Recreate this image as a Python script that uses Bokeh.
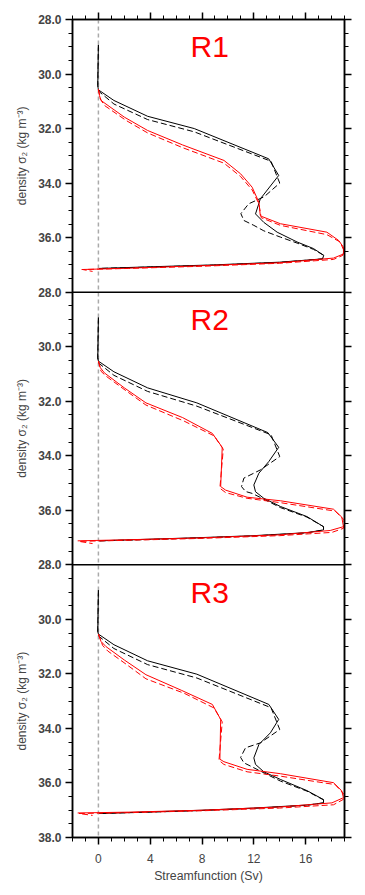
import math
from bokeh.plotting import figure
from bokeh.layouts import row
from bokeh.models import Range1d, LinearAxis, FixedTicker, Span, Label
from bokeh.embed import file_html
from bokeh.resources import INLINE

# ---------------- data (Streamfunction in Sv, density sigma_2) ----------------
# Panel R1
r1_black_solid_x = [0.0, -0.05, 0.0, 1.2, 3.8, 7.4, 13.15, 13.92, 12.5, 12.13, 12.77, 13.8, 15.34, 16.6, 17.4, 17.3, 14.0, 8.9, 4.0, 0.05]
r1_black_solid_y = [28.93, 30.42, 30.58, 30.97, 31.55, 32.0, 33.11, 33.72, 34.58, 35.13, 35.44, 35.8, 36.16, 36.4, 36.65, 36.78, 36.9, 37.0, 37.07, 37.13]
r1_black_dash_x = [0.0, -0.05, 0.0, 0.07, 1.2, 3.8, 7.4, 13.33, 14.0, 12.8, 11.6, 11.0, 11.23, 12.0, 12.77, 14.05, 15.34, 16.6, 17.4, 17.3, 14.0, 8.9, 4.0, 0.05]
r1_black_dash_y = [28.93, 30.42, 30.58, 30.65, 31.1, 31.67, 32.12, 33.2, 34.0, 34.5, 34.76, 35.12, 35.37, 35.55, 35.75, 35.98, 36.2, 36.43, 36.65, 36.78, 36.91, 37.01, 37.08, 37.13]
r1_red_solid_x = [0.0, 0.08, 0.2, 2.0, 3.8, 6.5, 9.7, 10.98, 11.87, 12.39, 12.5, 12.59, 14.05, 17.64, 18.54, 18.92, 18.92, 18.15, 14.0, 8.0, 2.3, -1.3]
r1_red_solid_y = [30.55, 30.79, 30.97, 31.58, 32.07, 32.6, 33.17, 33.66, 34.15, 34.7, 35.19, 35.22, 35.49, 35.8, 36.1, 36.35, 36.6, 36.75, 36.92, 37.03, 37.12, 37.17]
r1_red_dash_x = [0.0, 0.15, 0.46, 2.13, 3.8, 6.5, 9.7, 10.98, 11.87, 12.39, 12.57, 14.05, 17.64, 18.66, 18.95, 18.87, 18.15, 14.0, 8.0, 2.3, -1.2, -0.45]
r1_red_dash_y = [30.55, 30.91, 31.15, 31.7, 32.16, 32.7, 33.27, 33.76, 34.25, 34.76, 35.27, 35.55, 35.89, 36.16, 36.47, 36.65, 36.8, 36.94, 37.05, 37.13, 37.17, 37.24]

# Panel R2
r2_black_solid_x = [0.0, -0.05, 0.0, 1.2, 3.8, 7.6, 13.08, 13.92, 13.16, 12.39, 12.0, 12.13, 12.77, 14.05, 16.1, 17.38, 17.38, 16.1, 12.0, 8.0, 4.0, 0.05]
r2_black_solid_y = [28.93, 30.41, 30.53, 30.92, 31.51, 32.06, 33.15, 33.69, 34.21, 34.64, 35.07, 35.32, 35.56, 35.86, 36.23, 36.6, 36.72, 36.82, 36.93, 37.0, 37.06, 37.12]
r2_black_dash_x = [0.0, -0.05, 0.0, 0.07, 1.2, 3.8, 7.6, 13.33, 14.0, 12.5, 11.23, 11.05, 11.36, 11.87, 12.64, 14.05, 16.1, 17.38, 17.38, 16.1, 12.0, 8.0, 4.0, 0.05]
r2_black_dash_y = [28.93, 30.41, 30.53, 30.62, 31.05, 31.64, 32.18, 33.23, 34.03, 34.52, 34.82, 35.13, 35.31, 35.38, 35.56, 35.9, 36.25, 36.6, 36.72, 36.83, 36.94, 37.01, 37.07, 37.12]
r2_red_solid_x = [0.0, 0.15, 0.46, 2.0, 3.67, 6.5, 8.8, 9.56, 9.44, 9.82, 11.48, 14.05, 18.15, 18.79, 18.92, 17.9, 14.0, 8.0, 2.3, -1.6]
r2_red_solid_y = [30.53, 30.77, 30.96, 31.51, 32.06, 32.6, 33.18, 33.69, 35.13, 35.26, 35.52, 35.65, 35.96, 36.25, 36.6, 36.74, 36.9, 37.01, 37.08, 37.12]
r2_red_dash_x = [0.0, 0.2, 0.59, 2.26, 3.67, 6.62, 8.93, 9.64, 9.38, 9.82, 11.48, 14.05, 18.28, 18.97, 18.92, 18.03, 14.0, 8.0, 2.3, -1.5, -0.45]
r2_red_dash_y = [30.53, 30.9, 31.08, 31.66, 32.14, 32.73, 33.27, 33.76, 35.19, 35.35, 35.56, 35.72, 36.03, 36.35, 36.66, 36.81, 36.93, 37.03, 37.1, 37.14, 37.22]

# Panel R3
r3_black_solid_x = [0.0, -0.05, 0.0, 1.2, 3.8, 7.6, 13.16, 13.92, 13.28, 12.39, 12.0, 12.13, 12.77, 14.05, 16.1, 17.38, 17.38, 16.1, 12.0, 8.0, 4.0, 0.05]
r3_black_solid_y = [28.93, 30.44, 30.54, 30.93, 31.52, 32.01, 33.12, 33.67, 34.16, 34.59, 35.08, 35.32, 35.59, 35.87, 36.28, 36.61, 36.73, 36.81, 36.92, 37.0, 37.06, 37.12]
r3_black_dash_x = [0.0, -0.05, 0.0, 0.07, 1.2, 3.8, 7.6, 13.33, 14.0, 12.5, 11.36, 10.98, 11.23, 11.74, 13.03, 14.05, 16.1, 17.38, 17.38, 16.1, 12.0, 8.0, 4.0, 0.05]
r3_black_dash_y = [28.93, 30.44, 30.54, 30.63, 31.07, 31.66, 32.15, 33.24, 34.04, 34.53, 34.71, 35.06, 35.26, 35.38, 35.69, 35.93, 36.3, 36.62, 36.73, 36.82, 36.93, 37.01, 37.07, 37.12]
r3_red_solid_x = [0.0, 0.2, 0.59, 2.0, 3.67, 6.4, 8.8, 9.44, 9.38, 9.69, 11.48, 14.05, 18.15, 18.79, 18.92, 18.03, 14.0, 8.0, 2.3, -1.6]
r3_red_solid_y = [30.54, 30.81, 31.0, 31.49, 32.03, 32.6, 33.12, 33.67, 35.13, 35.22, 35.5, 35.66, 35.99, 36.29, 36.54, 36.73, 36.88, 37.0, 37.07, 37.1]
r3_red_dash_x = [0.0, 0.33, 0.72, 2.13, 3.67, 6.62, 8.93, 9.56, 9.31, 9.69, 11.48, 14.05, 18.28, 18.97, 18.92, 18.15, 14.0, 8.0, 2.3, -1.5, -0.45]
r3_red_dash_y = [30.54, 30.96, 31.16, 31.64, 32.18, 32.71, 33.25, 33.76, 35.17, 35.32, 35.59, 35.75, 36.06, 36.42, 36.6, 36.8, 36.92, 37.02, 37.09, 37.12, 37.19]

panel_names = ["R1", "R2", "R3"]
density_ticks = [28, 30, 32, 34, 36, 38]
stream_ticks = [0, 4, 8, 12, 16]
x_min, x_max = -2, 19
d_top, d_bot = 28, 38
y_title = "density σ₂ (kg m⁻³)"
x_title = "Streamfunction (Sv)"

panels = [
    (r1_black_solid_x, r1_black_solid_y, r1_black_dash_x, r1_black_dash_y,
     r1_red_solid_x, r1_red_solid_y, r1_red_dash_x, r1_red_dash_y),
    (r2_black_solid_x, r2_black_solid_y, r2_black_dash_x, r2_black_dash_y,
     r2_red_solid_x, r2_red_solid_y, r2_red_dash_x, r2_red_dash_y),
    (r3_black_solid_x, r3_black_solid_y, r3_black_dash_x, r3_black_dash_y,
     r3_red_solid_x, r3_red_solid_y, r3_red_dash_x, r3_red_dash_y),
]

FONT = "Liberation Sans"
span = d_bot - d_top
n = len(panels)
H = 888
TOP, BOT = 19, 51
TW = 30

# ---- narrow strip holding the per-panel y-axis titles ----
t = figure(width=TW, height=H, output_backend="svg", toolbar_location=None,
           x_range=Range1d(0, TW), y_range=Range1d(d_bot + (n - 1) * span, d_top),
           x_axis_location=None, y_axis_location=None,
           min_border_left=0, min_border_right=0, min_border_top=TOP, min_border_bottom=BOT)
t.grid.grid_line_color = None
t.outline_line_color = None
t.background_fill_color = "white"
t.border_fill_color = "white"

# ---- main frame: three stacked panels, each with its own y-range ----
p = figure(width=358 - TW, height=H, output_backend="svg", toolbar_location=None,
           x_range=Range1d(x_min, x_max),
           y_range=t.y_range,
           x_axis_location=None, y_axis_location=None,
           min_border_left=72 - TW, min_border_right=14, min_border_top=TOP, min_border_bottom=BOT)
p.grid.grid_line_color = None
p.background_fill_color = "white"
p.border_fill_color = "white"
p.outline_line_color = "black"
p.outline_line_width = 1.5

range_names = ["default"]
for k in range(1, n):
    nm = "r%d" % (k + 1)
    rng = Range1d(d_bot + (n - 1 - k) * span, d_top - k * span)
    p.extra_y_ranges[nm] = rng
    t.extra_y_ranges[nm] = rng
    range_names.append(nm)

all_major = []
overrides = {}
for k in range(n):
    for tk in density_ticks:
        v = tk + k * span
        if v not in all_major:
            all_major.append(v)
        overrides[v] = "%.1f" % tk
all_minor = [d_top + 0.5 * i for i in range(int(2 * span * n) + 1)]
yticker = FixedTicker(ticks=all_major, minor_ticks=all_minor)
xticker = FixedTicker(ticks=stream_ticks, minor_ticks=list(range(x_min, x_max + 1)))

def style_axis(ax):
    ax.axis_line_width = 1.5
    ax.major_tick_line_width = 1.5
    ax.minor_tick_line_width = 1
    ax.major_tick_in = 0
    ax.major_tick_out = 7
    ax.minor_tick_in = 0
    ax.minor_tick_out = 4

left = LinearAxis(ticker=yticker, major_label_overrides=overrides)
style_axis(left)
left.major_label_text_font = FONT
left.major_label_text_font_style = "bold"
left.major_label_text_font_size = "12px"
left.major_label_standoff = 4
p.add_layout(left, "left")

right = LinearAxis(ticker=yticker, major_label_overrides={v: "" for v in all_major})
style_axis(right)
right.major_label_standoff = 0
right.major_label_text_font_size = "1px"
p.add_layout(right, "right")

bottom = LinearAxis(ticker=xticker, axis_label=x_title)
style_axis(bottom)
bottom.major_label_text_font = FONT
bottom.major_label_text_font_size = "12px"
bottom.major_label_standoff = 9
bottom.axis_label_text_font = FONT
bottom.axis_label_text_font_size = "12.3px"
bottom.axis_label_text_font_style = "normal"
bottom.axis_label_standoff = 3
p.add_layout(bottom, "below")

top = LinearAxis(ticker=xticker, major_label_overrides={v: "" for v in stream_ticks})
style_axis(top)
top.major_label_standoff = 0
top.major_label_text_font_size = "1px"
p.add_layout(top, "above")

p.add_layout(Span(location=0, dimension="height", line_color="#aaaaaa",
                  line_dash="4 3", line_width=1.5, level="underlay"))
for k in range(n - 1):
    p.add_layout(Span(location=d_bot, dimension="width", line_color="black",
                      line_width=1.5, y_range_name=range_names[k]))

for k, (bsx, bsy, bdx, bdy, rsx, rsy, rdx, rdy) in enumerate(panels):
    rn = range_names[k]
    p.line(bsx, bsy, line_color="black", line_width=1, y_range_name=rn)
    p.line(bdx, bdy, line_color="black", line_width=1, line_dash="6 3", y_range_name=rn)
    p.line(rsx, rsy, line_color="red", line_width=1, y_range_name=rn)
    p.line(rdx, rdy, line_color="red", line_width=1, line_dash="6 3", y_range_name=rn)
    p.add_layout(Label(x=8.6, y=29.0, text=panel_names[k], text_color="red",
                       text_font=FONT, text_font_size="30px", text_align="center",
                       text_baseline="alphabetic", y_range_name=rn))
    t.add_layout(Label(x=21.7, y=(d_top + d_bot) / 2, text=y_title,
                       angle=math.pi / 2, text_font=FONT, text_font_size="12px",
                       text_align="center", text_baseline="middle", y_range_name=rn))

layout = row(t, p, spacing=0)
open("out.html", "w").write(file_html(layout, INLINE))
